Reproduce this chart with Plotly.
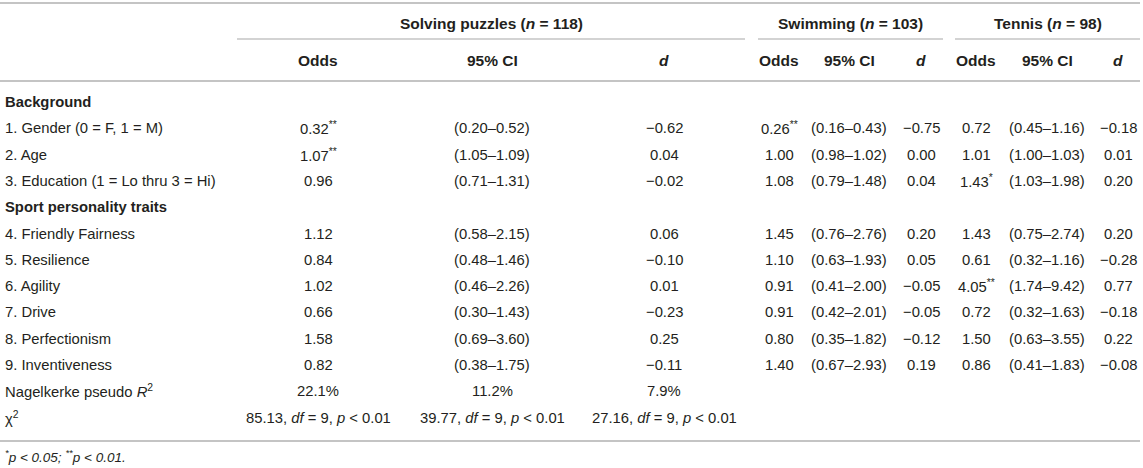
import plotly.graph_objects as go

# ---- table content ----
groups = ["Solving puzzles (<i>n</i> = 118)", "Swimming (<i>n</i> = 103)", "Tennis (<i>n</i> = 98)"]
sub_headers = ["Odds", "95% CI", "<i>d</i>"]

row_labels = [
    "<b>Background</b>",
    "1. Gender (0 = F, 1 = M)",
    "2. Age",
    "3. Education (1 = Lo thru 3 = Hi)",
    "<b>Sport personality traits</b>",
    "4. Friendly Fairness",
    "5. Resilience",
    "6. Agility",
    "7. Drive",
    "8. Perfectionism",
    "9. Inventiveness",
    "Nagelkerke pseudo <i>R</i><sup>2</sup>",
    "χ<sup>2</sup>",
]

puzzles_odds = ["", "0.32**", "1.07**", "0.96", "", "1.12", "0.84", "1.02", "0.66", "1.58", "0.82",
                "22.1%", "85.13, <i>df</i> = 9, <i>p</i> < 0.01"]
puzzles_ci = ["", "(0.20–0.52)", "(1.05–1.09)", "(0.71–1.31)", "", "(0.58–2.15)", "(0.48–1.46)",
              "(0.46–2.26)", "(0.30–1.43)", "(0.69–3.60)", "(0.38–1.75)",
              "11.2%", "39.77, <i>df</i> = 9, <i>p</i> < 0.01"]
puzzles_d = ["", "−0.62", "0.04", "−0.02", "", "0.06", "−0.10", "0.01", "−0.23", "0.25", "−0.11",
             "7.9%", "27.16, <i>df</i> = 9, <i>p</i> < 0.01"]

swim_odds = ["", "0.26**", "1.00", "1.08", "", "1.45", "1.10", "0.91", "0.91", "0.80", "1.40", "", ""]
swim_ci = ["", "(0.16–0.43)", "(0.98–1.02)", "(0.79–1.48)", "", "(0.76–2.76)", "(0.63–1.93)",
           "(0.41–2.00)", "(0.42–2.01)", "(0.35–1.82)", "(0.67–2.93)", "", ""]
swim_d = ["", "−0.75", "0.00", "0.04", "", "0.20", "0.05", "−0.05", "−0.05", "−0.12", "0.19", "", ""]

tennis_odds = ["", "0.72", "1.01", "1.43*", "", "1.43", "0.61", "4.05**", "0.72", "1.50", "0.86", "", ""]
tennis_ci = ["", "(0.45–1.16)", "(1.00–1.03)", "(1.03–1.98)", "", "(0.75–2.74)", "(0.32–1.16)",
             "(1.74–9.42)", "(0.32–1.63)", "(0.63–3.55)", "(0.41–1.83)", "", ""]
tennis_d = ["", "−0.18", "0.01", "0.20", "", "0.20", "−0.28", "0.77", "−0.18", "0.22", "−0.08", "", ""]

footnote = "<sup>*</sup><i>p</i> < 0.05; <sup>**</sup><i>p</i> < 0.01."

# ---- layout geometry (pixels) ----
W, H = 1143, 468
col_x = [318, 492, 664, 779, 849, 921, 976, 1047, 1118]
group_spans = [(237, 745), (758, 943), (955, 1140)]
row_y0, row_step = 102, 26.3
TEXT = "#231f20"
RULE = "#c4c4c4"
FONT = "Liberation Sans, Arial, sans-serif"
BODY, HEAD = 14.8, 15.5


def stars(s):
    # trailing significance stars are set as small superscripts
    core = s.rstrip("*")
    n = len(s) - len(core)
    return core + ("<sup>" + "*" * n + "</sup>" if n else "")


fig = go.Figure()
anns = []


def text(x, y, s, anchor="center", size=BODY, bold=False):
    if bold:
        s = "<b>" + s + "</b>"
    anns.append(dict(x=x, y=y, xref="x", yref="y", text=s, showarrow=False,
                     xanchor=anchor, yanchor="middle", font=dict(size=size, color=TEXT, family=FONT)))


# group headers
for g, (a, b) in zip(groups, group_spans):
    text((a + b) / 2, 23, g, size=HEAD, bold=True)
# sub headers
for i, x in enumerate(col_x):
    text(x, 60, sub_headers[i % 3], size=HEAD, bold=True)

columns = [puzzles_odds, puzzles_ci, puzzles_d, swim_odds, swim_ci, swim_d, tennis_odds, tennis_ci, tennis_d]
for r, label in enumerate(row_labels):
    y = row_y0 + r * row_step
    text(3, y, label, anchor="left")
    for x, col in zip(col_x, columns):
        if col[r]:
            text(x, y, stars(col[r]))

text(3, 456, "<i>" + footnote + "</i>", anchor="left", size=13.5)

shapes = []
for y, w in [(3, 2), (81, 2), (441, 2)]:
    shapes.append(dict(type="line", xref="x", yref="y", x0=0, x1=1140, y0=y, y1=y,
                       line=dict(color=RULE, width=w)))
for a, b in group_spans:
    shapes.append(dict(type="line", xref="x", yref="y", x0=a, x1=b, y0=39, y1=39,
                       line=dict(color=RULE, width=1.5)))

fig.update_layout(
    width=W,
    height=H,
    margin=dict(l=0, r=0, t=0, b=0),
    paper_bgcolor="white",
    plot_bgcolor="white",
    annotations=anns,
    shapes=shapes,
    xaxis=dict(range=[0, W], visible=False, fixedrange=True),
    yaxis=dict(range=[H, 0], visible=False, fixedrange=True),
    showlegend=False,
)

fig.write_html("out.html", config={"displayModeBar": False},
               post_script="document.body.style.margin='0';")
